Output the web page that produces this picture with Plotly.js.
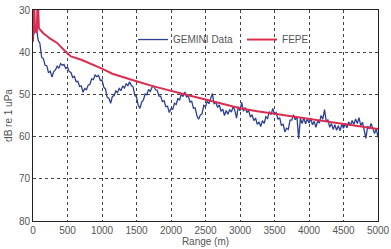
<!DOCTYPE html>
<html>
<head>
<meta charset="utf-8">
<script src="https://cdn.plot.ly/plotly-3.0.1.min.js"></script>
<style>html,body{margin:0;padding:0;background:#fff;}#chart{width:391px;height:249px;}</style>
</head>
<body>
<div id="chart"></div>
<script>
// GEMINI measured data, sampled every 25 m from 0 to 5000 m (dB re 1 uPa)
const geminiStep = 25;
const geminiLevel = [
  36.5, 34.8, 34.0, 37.2, 37.9, 41.2, 41.5, 43.1, 43.2, 44.9,
  44.5, 45.9, 44.6, 44.2, 43.3, 43.8, 42.7, 43.1, 42.9, 43.9,
  43.5, 44.6, 44.8, 46.0, 45.7, 47.0, 46.9, 48.1, 48.0, 49.5,
  48.6, 48.9, 47.8, 47.6, 46.3, 46.5, 45.4, 45.8, 45.5, 46.7,
  46.6, 48.3, 48.7, 50.7, 50.9, 52.1, 50.5, 50.3, 49.2, 49.6,
  48.6, 49.1, 48.0, 48.5, 47.5, 47.9, 47.0, 47.9, 48.2, 50.2,
  50.6, 52.6, 53.3, 51.8, 51.3, 49.9, 50.1, 48.8, 49.3, 48.3,
  48.0, 48.9, 49.0, 50.4, 50.4, 51.7, 51.5, 52.9, 52.8, 54.3,
  53.4, 53.5, 52.1, 52.4, 51.0, 51.3, 49.9, 50.5, 49.4, 50.6,
  50.3, 51.8, 51.6, 53.3, 53.2, 55.0, 55.9, 54.9, 54.6, 52.6,
  52.9, 51.6, 52.2, 51.0, 49.8, 52.3, 51.8, 53.1, 52.5, 54.0,
  53.5, 55.0, 53.8, 54.7, 53.6, 54.2, 52.9, 53.8, 55.6, 52.9,
  53.9, 51.9, 54.0, 53.1, 54.3, 53.8, 55.4, 54.8, 56.2, 55.6,
  57.1, 56.5, 57.6, 56.2, 56.9, 55.3, 55.7, 54.1, 54.8, 53.3,
  54.7, 54.3, 55.9, 55.5, 57.4, 57.0, 58.9, 58.0, 58.3, 56.1,
  56.1, 54.8, 56.0, 55.3, 60.5, 55.7, 56.9, 55.6, 57.0, 55.8,
  56.8, 55.7, 57.2, 56.4, 57.8, 56.3, 56.8, 55.0, 55.9, 53.6,
  56.4, 56.0, 57.8, 56.9, 58.3, 57.2, 58.5, 57.4, 58.6, 57.1,
  58.0, 56.9, 57.9, 56.5, 57.4, 56.2, 57.1, 55.8, 56.9, 55.5,
  57.4, 56.6, 58.5, 60.4, 57.5, 58.2, 56.9, 58.4, 59.3, 58.1,
  60.2
];
const geminiRange = geminiLevel.map((_, i) => i * geminiStep);

// FEPE model prediction
const fepeRange = [0, 12, 30, 55, 68, 85, 110, 150, 250, 350, 450, 550, 700, 850, 1000, 1150, 1300, 1500, 1750, 2000, 2250, 2500, 2750, 3000, 3250, 3500, 3750, 4000, 4250, 4500, 4750, 5000];
const fepeLevel = [37.5, 26, 35.0, 35.4, 26, 34.3, 34.8, 35.5, 36.8, 37.8, 39.5, 41.0, 41.8, 42.8, 43.9, 45.1, 45.9, 46.9, 48.1, 49.2, 50.2, 51.2, 52.3, 53.3, 54.0, 54.6, 55.3, 55.8, 56.4, 57.0, 57.6, 58.2];

const xTicks = [0, 500, 1000, 1500, 2000, 2500, 3000, 3500, 4000, 4500, 5000];
const yTicks = [30, 40, 50, 60, 70, 80];
const seriesNames = ['GEMINI Data', 'FEPE'];

const traces = [
  {x: geminiRange, y: geminiLevel, name: seriesNames[0], type: 'scatter', mode: 'lines',
   line: {color: '#2c3f92', width: 1.3}},
  {x: fepeRange, y: fepeLevel, name: seriesNames[1], type: 'scatter', mode: 'lines',
   line: {color: '#da2d50', width: 2}}
];

const axisCommon = {
  showgrid: true, gridcolor: '#444', griddash: '3px,3px', gridwidth: 1,
  zeroline: false, showline: true, linecolor: '#222', linewidth: 1, mirror: true,
  ticks: '', tickfont: {size: 10, color: '#555'}
};

const layout = {
  width: 391, height: 249,
  margin: {l: 33, r: 13, t: 10, b: 28},
  paper_bgcolor: '#fff', plot_bgcolor: '#fff',
  font: {family: 'Liberation Sans, Arial, sans-serif', size: 10, color: '#555'},
  showlegend: true,
  legend: {orientation: 'h', x: 0.29, y: 0.86, xanchor: 'left', yanchor: 'middle',
           bgcolor: 'rgba(0,0,0,0)', font: {size: 10, color: '#555'}, traceorder: 'normal',
           entrywidth: 64},
  xaxis: Object.assign({}, axisCommon, {range: [0, 5000], tickvals: xTicks, ticktext: xTicks.map(String),
    title: {text: 'Range (m)', font: {size: 10, color: '#555'}, standoff: 2}}),
  yaxis: Object.assign({}, axisCommon, {range: [80, 30], tickvals: yTicks, ticktext: yTicks.map(String),
    title: {text: 'dB re 1 uPa', font: {size: 10, color: '#555'}, standoff: 4}})
};

Plotly.newPlot('chart', traces, layout, {displayModeBar: false, staticPlot: true});
</script>
</body>
</html>
